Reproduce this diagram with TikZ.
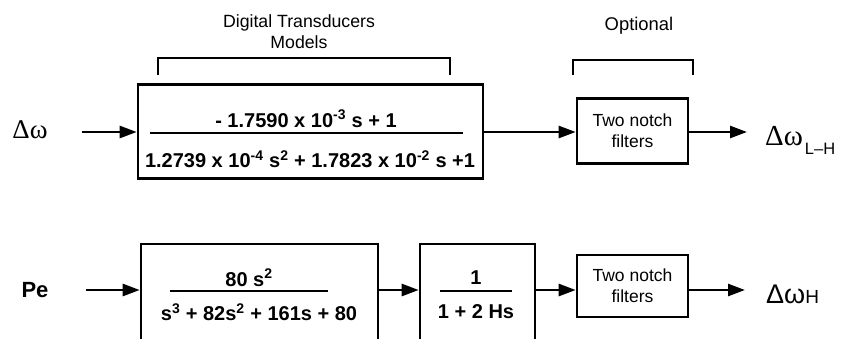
\documentclass[tikz,border=0pt]{standalone}
\usepackage{fontspec}
\setmainfont{Liberation Sans}
\newfontfamily\serifgr{Liberation Serif}
\usetikzlibrary{arrows.meta}
\begin{document}
\begin{tikzpicture}[x=1pt,y=-1pt,
  blk/.style={draw, line width=2.6pt, rectangle, inner sep=0pt},
  arr/.style={line width=2.6pt, -{Triangle[length=17pt,width=12pt]}},
  brk/.style={line width=1.8pt},
  fracline/.style={line width=2.2pt},
  lbl/.style={font=\fontsize{17.7}{21}\selectfont, inner sep=0pt, align=center},
  nlbl/.style={font=\fontsize{17.5}{21}\selectfont, inner sep=0pt, align=center},
  eq/.style={font=\fontsize{20}{23}\selectfont\bfseries, inner sep=0pt}]
\clip (0,0) rectangle (841,338);
\useasboundingbox (0,0) rectangle (841,338);

% ---------- top row ----------
\node[inner sep=0pt, font=\serifgr\fontsize{27}{27}\selectfont] (dw) at (30,130) {Δω};
\coordinate (a1) at (82,132);
\node[blk, minimum width=345pt, minimum height=94pt] (box1) at (310.5,131.5) {};
\node[eq] (n1) at (306,118.5) {- 1.7590 x 10\textsuperscript{-3} s + 1};
\node[eq] (d1) at (310,159) {1.2739 x 10\textsuperscript{-4} s\textsuperscript{2} + 1.7823 x 10\textsuperscript{-2} s +1};
\coordinate (f1a) at (150,133);
\coordinate (f1b) at (463,133);
\draw[fracline] (f1a) -- (f1b);
\node[blk, minimum width=111pt, minimum height=65pt] (nf1) at (632.5,131) {};
\node[nlbl] (nf1t) at (nf1) {Two notch\\filters};
\coordinate (o1) at (747,132);
\node[inner sep=0pt, anchor=base west] (out1) at (765,145)
  {{\serifgr\fontsize{29}{29}\selectfont Δω}\hspace{2pt}\raisebox{-9pt}{\fontsize{16.5}{17}\selectfont L–H}};

\draw[arr] (a1) -- (box1.west |- a1);
\draw[arr] (box1.east |- a1) -- (nf1.west |- a1);
\draw[arr] (nf1.east |- a1) -- (o1);

% brackets
\coordinate (b1l) at (158,75);
\coordinate (b1r) at (450,75);
\draw[brk] (b1l) -- ++(0,-17) -| (b1r);
\node[lbl] (lab1) at (299,32) {Digital Transducers\\Models};
\coordinate (b2l) at (573,75);
\coordinate (b2r) at (693,75);
\draw[brk] (b2l) -- ++(0,-15) -| (b2r);
\node[lbl, font=\fontsize{18.4}{21}\selectfont] (lab2) at (639,26) {Optional};

% ---------- bottom row ----------
\node[inner sep=0pt, font=\fontsize{22}{22}\selectfont\bfseries] (pe) at (35,290) {Pe};
\coordinate (a2) at (86,290);
\node[blk, minimum width=237pt, minimum height=100pt] (box2) at (259.5,294) {};
\node[eq] (n2) at (249,277.5) {80 s\textsuperscript{2}};
\node[eq] (d2) at (259,312) {s\textsuperscript{3} + 82s\textsuperscript{2} + 161s + 80};
\coordinate (f2a) at (170,291);
\coordinate (f2b) at (328,291);
\draw[fracline] (f2a) -- (f2b);
\node[blk, minimum width=115pt, minimum height=100pt] (box3) at (477.5,294) {};
\node[eq] (n3) at (476,277.5) {1};
\node[eq] (d3) at (476,312) {1 + 2 Hs};
\coordinate (f3a) at (440,291);
\coordinate (f3b) at (512,291);
\draw[fracline] (f3a) -- (f3b);
\node[blk, minimum width=111pt, minimum height=62pt] (nf2) at (632.5,286) {};
\node[nlbl] (nf2t) at (nf2) {Two notch\\filters};
\coordinate (o2) at (745,290);
\node[inner sep=0pt, anchor=base west] (out2) at (766,303)
  {{\fontsize{27}{27}\selectfont Δω}{\fontsize{19}{19}\selectfont H}};

\draw[arr] (a2) -- (box2.west |- a2);
\draw[arr] (box2.east |- a2) -- (box3.west |- a2);
\draw[arr] (box3.east |- a2) -- (nf2.west |- a2);
\draw[arr] (nf2.east |- a2) -- (o2);
\end{tikzpicture}
\end{document}
